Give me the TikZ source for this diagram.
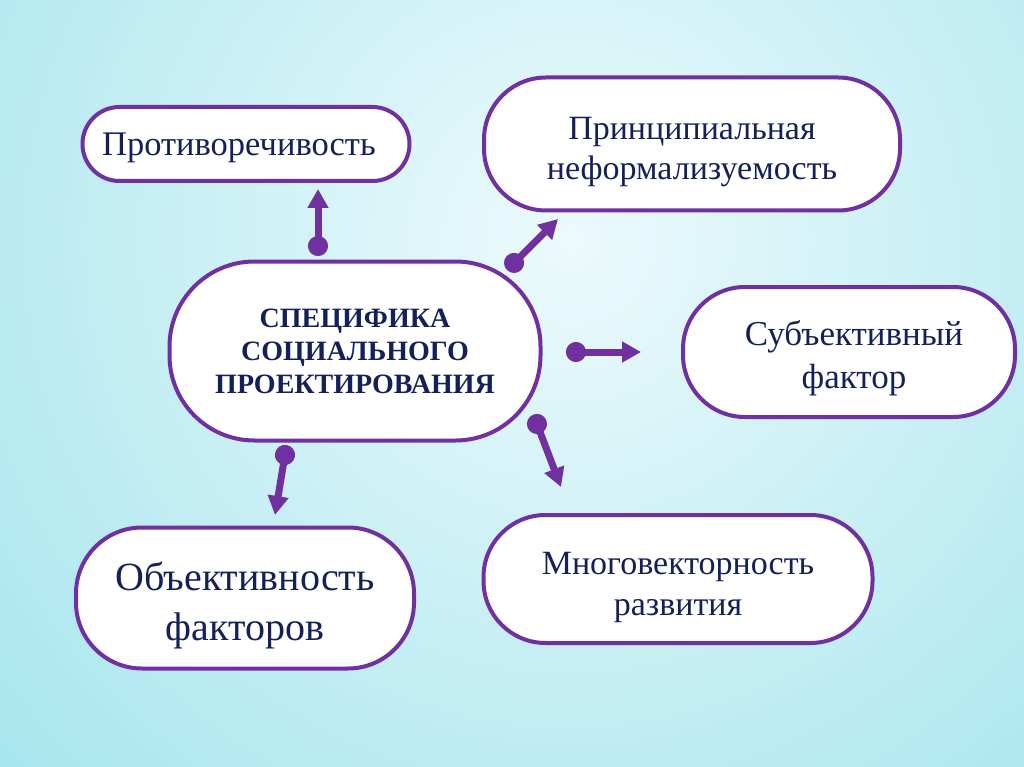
\documentclass[tikz,border=0pt]{standalone}
\usepackage{fontspec}
\setmainfont{Liberation Serif}
\usetikzlibrary{arrows.meta,calc}

\definecolor{purp}{RGB}{112,48,160}
\definecolor{navy}{RGB}{20,32,88}
\definecolor{bgin}{RGB}{236,250,252}
\definecolor{bgout}{RGB}{134,219,231}

\begin{document}
\begin{tikzpicture}[
    x=1pt, y=-1pt,
    box/.style={draw=purp, line width=4pt, fill=white, inner sep=0pt},
    txt/.style={text=navy, align=center, inner sep=0pt},
    arrow/.style={{Circle[length=20pt]}-{Triangle[length=19pt,width=20pt]}, line width=7pt, draw=purp}
]
% Background
\useasboundingbox (0,0) rectangle (1024,767);
\begin{scope}
\clip (0,0) rectangle (1024,767);
\shade[inner color=bgin, outer color=bgout] (570,240) circle (1150);
\end{scope}

% Boxes
\node[box, minimum width=327, minimum height=74, rounded corners=37,
      label={[txt, xshift=-7pt, yshift=-4pt, font=\fontsize{34.5}{40}\selectfont]center:Противоречивость}] (contr) at (246,144) {};
\node[box, minimum width=416, minimum height=133, rounded corners=62,
      label={[txt, yshift=-8pt, font=\fontsize{34}{40}\selectfont]center:Принципиальная\\неформализуемость}] (formal) at (692,144) {};
\node[box, minimum width=371, minimum height=179, rounded corners=85,
      label={[txt, font=\fontsize{28}{33}\selectfont\bfseries]center:СПЕЦИФИКА\\СОЦИАЛЬНОГО\\ПРОЕКТИРОВАНИЯ}] (spec) at (355,351) {};
\node[box, minimum width=332, minimum height=130, rounded corners=62,
      label={[txt, xshift=5pt, yshift=-6pt, font=\fontsize{35}{43}\selectfont]center:Субъективный\\фактор}] (subj) at (849,352) {};
\node[box, minimum width=338, minimum height=141, rounded corners=66,
      label={[txt, yshift=-7pt, font=\fontsize{40}{50}\selectfont]center:Объективность\\факторов}] (obj) at (245,598) {};
\node[box, minimum width=389, minimum height=128, rounded corners=62,
      label={[txt, yshift=-8pt, font=\fontsize{34}{41}\selectfont]center:Многовекторность\\развития}] (multi) at (678,579) {};

% Arrow ends
\coordinate (d1) at (318,256);   \coordinate (t1) at (318,189);
\coordinate (d2) at (507,270);   \coordinate (t2) at (558,219);
\coordinate (d3) at (566,352);   \coordinate (t3) at (641,352);
\coordinate (d4) at (533.4,414.6); \coordinate (t4) at (561,487);
\coordinate (d5) at (286.6,445.1); \coordinate (t5) at (275,515);

% Arrows
\draw[arrow] (d1) -- (t1);
\draw[arrow] (d2) -- (t2);
\draw[arrow] (d3) -- (t3);
\draw[arrow] (d4) -- (t4);
\draw[arrow] (d5) -- (t5);
\end{tikzpicture}
\end{document}
